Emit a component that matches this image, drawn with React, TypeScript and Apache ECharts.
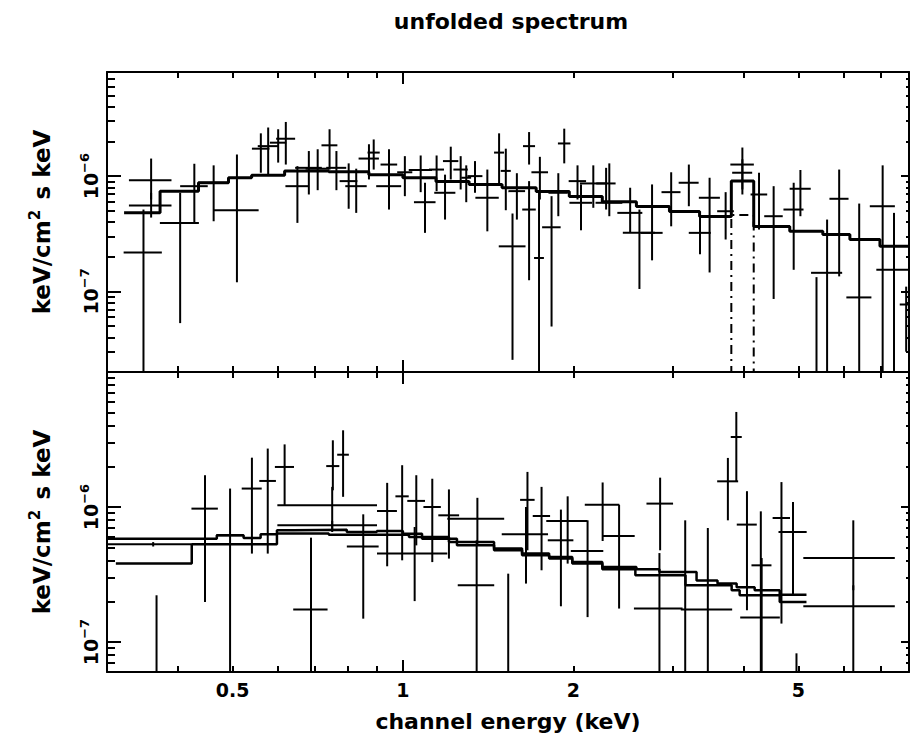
import { useEffect, useRef } from 'react';
import * as echarts from 'echarts';

const FONT = 'DejaVu Sans, sans-serif';
const WEIGHT = 'bold';

// ---- axis ranges ----
const xRange = [0.3, 7.84];
const topYRange = [2e-8, 8e-6];
const botYRange = [6e-8, 1e-5];

// ---- ticks / labels ----
const xMajorTicks = [1];
const xMinorTicks = [0.4, 0.5, 0.6, 0.7, 0.8, 0.9, 2, 3, 4, 5, 6, 7];
const xTickLabels = [0.5, 1, 2, 5];
const topYMajor = [1e-7, 1e-6];
const topYMinor = [2e-8, 3e-8, 4e-8, 5e-8, 6e-8, 7e-8, 8e-8, 9e-8, 2e-7, 3e-7, 4e-7, 5e-7, 6e-7, 7e-7, 8e-7, 9e-7, 2e-6, 3e-6, 4e-6, 5e-6, 6e-6, 7e-6];
const botYMajor = [1e-7, 1e-6];
const botYMinor = [7e-8, 8e-8, 9e-8, 2e-7, 3e-7, 4e-7, 5e-7, 6e-7, 7e-7, 8e-7, 9e-7, 2e-6, 3e-6, 4e-6, 5e-6, 6e-6, 7e-6, 8e-6, 9e-6];
const yTickLabels = [1e-7, 1e-6];

// ---- top panel data (keV, keV/cm^2 s keV) ----
const topE = [0.348, 0.359, 0.359, 0.404, 0.428, 0.463, 0.509, 0.561, 0.578, 0.602, 0.621, 0.651, 0.682, 0.707, 0.742, 0.763, 0.802, 0.827, 0.871, 0.888, 0.945, 0.945, 1.008, 1.075, 1.094, 1.147, 1.187, 1.215, 1.265, 1.294, 1.341, 1.41, 1.479, 1.52, 1.562, 1.59, 1.671, 1.671, 1.746, 1.74, 1.831, 1.882, 1.928, 2.035, 2.064, 2.17, 2.286, 2.316, 2.521, 2.618, 2.756, 2.979, 3.201, 3.35, 3.483, 3.718, 3.98, 3.98, 4.259, 4.52, 4.904, 5.04, 5.381, 5.618, 5.901, 6.402, 7.043, 7.375, 7.75];
const topDE = [0.027, 0.031, 0.031, 0.032, 0.024, 0.029, 0.047, 0.02, 0.024, 0.02, 0.024, 0.031, 0.037, 0.034, 0.024, 0.031, 0.029, 0.036, 0.036, 0.022, 0.032, 0.048, 0.031, 0.051, 0.048, 0.035, 0.051, 0.038, 0.037, 0.026, 0.041, 0.067, 0.03, 0.031, 0.085, 0.054, 0.041, 0.046, 0.059, 0.035, 0.069, 0.074, 0.049, 0.072, 0.095, 0.115, 0.09, 0.126, 0.128, 0.171, 0.121, 0.115, 0.13, 0.15, 0.149, 0.126, 0.19, 0.162, 0.144, 0.17, 0.2, 0.216, 0.15, 0.355, 0.229, 0.326, 0.359, 0.511, 0.2];
const topF = [2.18e-7, 9.23e-7, 5.56e-7, 3.93e-7, 8.18e-7, 8.76e-7, 5.06e-7, 1.73e-6, 1.82e-6, 1.95e-6, 2.11e-6, 8.18e-7, 1.18e-6, 1.16e-6, 1.85e-6, 1.18e-6, 9.05e-7, 8.18e-7, 1.42e-6, 1.6e-6, 1.26e-6, 8.18e-7, 1.08e-6, 1.13e-6, 5.94e-7, 1.14e-6, 7.17e-7, 1.35e-6, 1.14e-6, 9.68e-7, 1.0e-6, 6.49e-7, 1.6e-6, 1.11e-6, 2.46e-7, 7.41e-7, 1.82e-6, 5.13e-7, 1.08e-6, 1.95e-7, 3.6e-7, 7.17e-7, 1.92e-6, 9.05e-7, 5.87e-7, 8.64e-7, 8.64e-7, 5.87e-7, 4.8e-7, 3.22e-7, 3.22e-7, 7.26e-7, 8.76e-7, 3.22e-7, 6.49e-7, 4.96e-7, 1.26e-6, 1.07e-6, 6.93e-7, 4.49e-7, 5.13e-7, 7.77e-7, 1e-8, 1.45e-7, 6.36e-7, 8.87e-8, 5.48e-7, 1.54e-7, 7.7e-8];
const topLo = [1e-8, 6.27e-7, 4.37e-7, 5.31e-8, 3.96e-7, 4.06e-7, 1.2e-7, 1.07e-6, 1.03e-6, 1.31e-6, 1.26e-6, 3.93e-7, 6.93e-7, 7.55e-7, 1.14e-6, 7.55e-7, 5.21e-7, 4.8e-7, 9.36e-7, 1.14e-6, 8.47e-7, 5.13e-7, 6.7e-7, 7.26e-7, 3.22e-7, 7.41e-7, 4.2e-7, 9.36e-7, 7.66e-7, 5.94e-7, 7.17e-7, 3.32e-7, 8.64e-7, 5.06e-7, 2.55e-8, 4.2e-7, 1.26e-6, 1.25e-7, 6.27e-7, 1e-8, 4.96e-8, 4.49e-7, 1.29e-6, 6.27e-7, 3.39e-7, 5.31e-7, 5.13e-7, 4.49e-7, 3.22e-7, 1.05e-7, 1.86e-7, 3.67e-7, 5.48e-7, 2.1e-7, 1.46e-7, 2.82e-7, 7.66e-7, 6.93e-7, 3.44e-7, 8.6e-8, 1.54e-7, 4.49e-7, 1e-9, 1e-8, 1.35e-7, 1e-8, 1e-8, 1e-8, 3e-8];
const topHi = [5.13e-7, 1.42e-6, 7.17e-7, 7.17e-7, 1.28e-6, 1.24e-6, 1.54e-6, 2.35e-6, 2.64e-6, 2.55e-6, 2.95e-6, 1.22e-6, 1.65e-6, 1.71e-6, 2.55e-6, 1.65e-6, 1.29e-6, 1.16e-6, 1.89e-6, 2.08e-6, 1.71e-6, 1.14e-6, 1.49e-6, 1.51e-6, 8.76e-7, 1.51e-6, 1.03e-6, 1.8e-6, 1.49e-6, 1.24e-6, 1.35e-6, 1.14e-6, 2.35e-6, 1.73e-6, 4.74e-7, 1.06e-6, 2.41e-6, 9.05e-7, 1.47e-6, 7.17e-7, 6.7e-7, 1.06e-6, 2.58e-6, 1.24e-6, 8.47e-7, 1.24e-6, 1.18e-6, 1.29e-6, 7.93e-7, 5.13e-7, 8.47e-7, 1.08e-6, 1.26e-6, 4.6e-7, 9.68e-7, 7.26e-7, 1.77e-6, 1.4e-6, 1.07e-6, 8.18e-7, 8.76e-7, 1.13e-6, 1.33e-7, 4.2e-7, 1.14e-6, 5.78e-7, 1.24e-6, 4.8e-7, 1.1e-7];

// top model (histogram) and line component
const topModelEdges = [0.3216, 0.3723, 0.4353, 0.4918, 0.5404, 0.618, 0.7396, 0.8706, 1.0, 1.144, 1.309, 1.497, 1.72, 1.968, 2.251, 2.586, 2.958, 3.344, 3.805, 4.168, 4.826, 5.521, 6.164, 6.966, 7.84];
const topModelValues = [4.8e-7, 7.41e-7, 8.76e-7, 9.7e-7, 1.02e-6, 1.11e-6, 1.09e-6, 1.03e-6, 9.7e-7, 9.0e-7, 8.47e-7, 7.93e-7, 7.36e-7, 6.65e-7, 6.0e-7, 5.45e-7, 4.93e-7, 4.46e-7, 9.05e-7, 3.65e-7, 3.32e-7, 3.11e-7, 2.82e-7, 2.46e-7];
const lineCompEdges = [3.805, 4.168];
const lineCompValue = 4.6e-7;
const lineCompFloor = 1e-9;

// ---- bottom panel data ----
const botE = [0.362, 0.367, 0.447, 0.495, 0.541, 0.577, 0.618, 0.688, 0.75, 0.75, 0.752, 0.784, 0.851, 0.938, 0.997, 1.049, 1.056, 1.127, 1.206, 1.354, 1.35, 1.535, 1.65, 1.66, 1.758, 1.902, 1.955, 2.12, 2.254, 2.41, 2.84, 2.848, 3.154, 3.458, 3.752, 3.883, 4.055, 4.29, 4.305, 4.666, 4.89, 4.96, 6.25, 6.25];
const botDE = [0.061, 0.03, 0.024, 0.027, 0.022, 0.0195, 0.024, 0.048, 0.15, 0.15, 0.02, 0.0186, 0.055, 0.038, 0.027, 0.149, 0.038, 0.04, 0.051, 0.156, 0.1, 0.04, 0.155, 0.049, 0.062, 0.099, 0.163, 0.14, 0.158, 0.158, 0.28, 0.154, 0.06, 0.36, 0.16, 0.087, 0.165, 0.345, 0.175, 0.165, 0.28, 0.05, 1.15, 1.15];
const botF = [5.29e-7, 1e-8, 9.73e-7, 6.17e-7, 1.37e-6, 1.56e-6, 1.98e-6, 1.74e-7, 1.03e-6, 7.32e-7, 2.01e-6, 2.44e-6, 5.11e-7, 9.34e-7, 1.2e-6, 4.52e-7, 1.11e-6, 1.0e-6, 8.68e-7, 8.2e-7, 2.63e-7, 1e-8, 6.28e-7, 1.13e-6, 8.58e-7, 5.67e-7, 7.88e-7, 4.72e-7, 1.04e-6, 6.1e-7, 1.77e-7, 1.06e-6, 1e-8, 1.74e-7, 1.55e-6, 3.3e-6, 7.41e-7, 1.52e-7, 3.7e-7, 8.29e-7, 6.53e-7, 1e-8, 4.19e-7, 1.84e-7];
const botLo = [5.1e-7, 1e-9, 1.98e-7, 1e-8, 4.52e-7, 4.52e-7, 1.03e-6, 1e-8, 6.53e-7, 6.8e-7, 1.33e-6, 1.19e-6, 1.49e-7, 3.64e-7, 4.03e-7, 2.01e-7, 5.2e-7, 3.91e-7, 4.15e-7, 5.2e-7, 1e-8, 1e-9, 2.71e-7, 4.78e-7, 3.4e-7, 1.84e-7, 3.81e-7, 1.53e-7, 5.6e-7, 1.77e-7, 1e-8, 4.78e-7, 1e-9, 1e-8, 7.97e-7, 1.55e-6, 1.72e-7, 1e-8, 1e-8, 1.37e-7, 2.22e-7, 1e-9, 2.42e-7, 1e-8];
const botHi = [5.5e-7, 2.22e-7, 1.72e-6, 1.37e-6, 2.32e-6, 2.71e-6, 2.91e-6, 5.93e-7, 1.41e-6, 7.9e-7, 3.12e-6, 3.7e-6, 8.83e-7, 1.51e-6, 2.04e-6, 7.11e-7, 1.72e-6, 1.62e-6, 1.35e-6, 1.17e-6, 5.67e-7, 3.21e-7, 1.0e-6, 1.82e-6, 1.41e-6, 9.57e-7, 1.2e-6, 7.97e-7, 1.52e-6, 1.04e-6, 4.56e-7, 1.65e-6, 7.97e-7, 6.99e-7, 2.31e-6, 5.06e-6, 1.31e-6, 9.29e-7, 4.19e-7, 1.53e-6, 1.09e-6, 8.25e-8, 7.97e-7, 2.63e-7];

// bottom models (two detectors)
const botModelAEdges = [0.3, 0.469, 0.523, 0.5605, 0.599, 0.641, 0.7959, 0.8994, 1.0, 1.081, 1.246, 1.449, 1.624, 1.813, 1.992, 2.251, 2.586, 2.84, 3.303, 3.597, 3.888, 4.184, 4.633, 5.166];
const botModelAValues = [5.83e-7, 6.17e-7, 5.9e-7, 6.28e-7, 6.72e-7, 6.8e-7, 6.53e-7, 6.64e-7, 6.35e-7, 5.83e-7, 5.2e-7, 4.92e-7, 4.52e-7, 4.26e-7, 3.91e-7, 3.59e-7, 3.46e-7, 3.3e-7, 2.86e-7, 2.71e-7, 2.55e-7, 2.42e-7, 2.24e-7];
const botModelBEdges = [0.311, 0.4235, 0.599, 0.7396, 1.025, 1.206, 1.449, 1.624, 1.813, 1.992, 2.251, 2.575, 3.158, 3.81, 3.936, 4.633, 5.166];
const botModelBValues = [3.81e-7, 5.29e-7, 6.38e-7, 6.24e-7, 5.99e-7, 5.5e-7, 4.78e-7, 4.39e-7, 4.15e-7, 3.81e-7, 3.46e-7, 3.12e-7, 2.63e-7, 2.42e-7, 2.22e-7, 1.98e-7];

const L = Math.log10;

function errorData(E: number[], dE: number[], F: number[], lo: number[], hi: number[]) {
  return E.map((e, i) => [L(e), L(e - dE[i]), L(e + dE[i]), L(F[i]), L(lo[i]), L(hi[i])]);
}
function stepData(edges: number[], values: number[]) {
  const d = values.map((v, i) => [L(edges[i]), L(v)]);
  d.push([L(edges[edges.length - 1]), L(values[values.length - 1])]);
  return d;
}

const BAR_STYLE = { stroke: '#000', lineWidth: 2 };
function renderErrorBar(params: any, api: any) {
  const cs = params.coordSys;
  const x0 = cs.x, x1 = cs.x + cs.width, y0 = cs.y, y1 = cs.y + cs.height;
  const c = api.coord([api.value(0), api.value(3)]);
  const l = api.coord([api.value(1), api.value(3)]);
  const r = api.coord([api.value(2), api.value(3)]);
  const lo = api.coord([api.value(0), api.value(4)]);
  const hi = api.coord([api.value(0), api.value(5)]);
  const children: any[] = [];
  if (c[0] >= x0 - 0.5 && c[0] <= x1 + 0.5) {
    const ya = Math.max(y0, Math.min(y1, hi[1]));
    const yb = Math.max(y0, Math.min(y1, lo[1]));
    if (yb - ya > 0.5) children.push({ type: 'line', shape: { x1: c[0], y1: ya, x2: c[0], y2: yb }, style: BAR_STYLE });
  }
  if (c[1] >= y0 && c[1] <= y1) {
    const xa = Math.max(x0, l[0]);
    const xb = Math.min(x1, r[0]);
    if (xb > xa) children.push({ type: 'line', shape: { x1: xa, y1: c[1], x2: xb, y2: c[1] }, style: BAR_STYLE });
  }
  return { type: 'group', children };
}

const AX = { color: '#000', width: 2 };

function xAxisSet(grid: number, withLabels: boolean) {
  const base: any = {
    type: 'value', gridIndex: grid, min: L(xRange[0]), max: L(xRange[1]),
    splitLine: { show: false }, axisLabel: { show: false }, axisLine: { show: false, onZero: false },
  };
  const major = { show: true, inside: true, length: 12, lineStyle: AX, customValues: xMajorTicks.map(L) };
  const minor = { show: true, inside: true, length: 6, lineStyle: AX, customValues: xMinorTicks.map(L) };
  const labelAxis: any = { ...base, position: 'bottom', axisLine: { show: true, onZero: false, lineStyle: AX }, axisTick: major };
  if (withLabels) {
    labelAxis.axisLabel = {
      show: true, customValues: xTickLabels.map(L), margin: 8, fontSize: 19, fontWeight: WEIGHT, fontFamily: FONT, color: '#000',
      formatter: (v: number) => String(Number(Math.pow(10, v).toPrecision(3))),
    };
    labelAxis.name = 'channel energy (keV)';
    labelAxis.nameLocation = 'middle';
    labelAxis.nameGap = 38;
    labelAxis.nameTextStyle = { fontSize: 22, fontWeight: WEIGHT, fontFamily: FONT, color: '#000' };
  }
  return [
    labelAxis,
    { ...base, position: 'bottom', axisTick: minor },
    { ...base, position: 'top', axisLine: { show: true, onZero: false, lineStyle: AX }, axisTick: major },
    { ...base, position: 'top', axisTick: minor },
  ];
}

function yAxisSet(grid: number, range: number[], majors: number[], minors: number[]) {
  const base: any = {
    type: 'value', gridIndex: grid, min: L(range[0]), max: L(range[1]),
    splitLine: { show: false }, axisLabel: { show: false }, axisLine: { show: false, onZero: false },
  };
  return [
    {
      ...base, position: 'left',
      axisLine: { show: true, onZero: false, lineStyle: AX },
      axisTick: { show: true, inside: true, length: 14, lineStyle: AX, customValues: majors.map(L) },
      axisLabel: {
        show: true, customValues: yTickLabels.map(L), rotate: 90, margin: 3, color: '#000',
        formatter: (v: number) => `{b|10}{sup|\u2212${Math.abs(Math.round(v))}}`,
        rich: {
          b: { fontSize: 19, lineHeight: 26, fontWeight: WEIGHT, fontFamily: FONT, color: '#000' },
          sup: { fontSize: 13, lineHeight: 11, verticalAlign: 'top', fontWeight: WEIGHT, fontFamily: FONT, color: '#000' },
        },
      },
      name: '{b|keV/cm}{sup|2  }{b|s keV}',
      nameLocation: 'middle', nameRotate: 90, nameGap: 50,
      nameTextStyle: {
        color: '#000',
        rich: {
          b: { fontSize: 23, lineHeight: 30, fontWeight: WEIGHT, fontFamily: FONT, color: '#000' },
          sup: { fontSize: 15, lineHeight: 13, verticalAlign: 'top', fontWeight: WEIGHT, fontFamily: FONT, color: '#000' },
        },
      },
    },
    { ...base, position: 'left', axisTick: { show: true, inside: true, length: 8, lineStyle: AX, customValues: minors.map(L) } },
    { ...base, position: 'right', axisLine: { show: true, onZero: false, lineStyle: AX }, axisTick: { show: true, inside: true, length: 8, lineStyle: AX, customValues: majors.map(L) } },
    { ...base, position: 'right', axisTick: { show: true, inside: true, length: 3, lineStyle: AX, customValues: minors.map(L) } },
  ];
}

export default function App() {
  const ref = useRef<HTMLDivElement>(null);
  useEffect(() => {
    if (!ref.current) return;
    const chart = echarts.init(ref.current, undefined, { renderer: 'svg' });
    const option: any = {
      animation: false,
      backgroundColor: '#fff',
      graphic: [
        {
          type: 'text', x: 511, y: 21,
          style: { text: 'unfolded spectrum', fontSize: 22, fontWeight: WEIGHT, fontFamily: FONT, fill: '#000', align: 'center', verticalAlign: 'middle' },
        },
      ],
      grid: [
        { left: 107, top: 72, width: 802, height: 300 },
        { left: 107, top: 372, width: 802, height: 300 },
      ],
      xAxis: [...xAxisSet(0, false), ...xAxisSet(1, true)],
      yAxis: [...yAxisSet(0, topYRange, topYMajor, topYMinor), ...yAxisSet(1, botYRange, botYMajor, botYMinor)],
      series: [
        {
          type: 'line', xAxisIndex: 0, yAxisIndex: 0, step: 'end', symbol: 'none', silent: true,
          lineStyle: { color: '#000', width: 3 }, data: stepData(topModelEdges, topModelValues),
        },
        {
          type: 'line', xAxisIndex: 0, yAxisIndex: 0, step: 'start', symbol: 'none', silent: true,
          lineStyle: { color: '#000', width: 2, type: [9, 5, 2, 5] },
          data: [
            [L(lineCompEdges[0]), L(lineCompFloor)],
            [L(lineCompEdges[1]), L(lineCompValue)],
            [L(lineCompEdges[1]), L(lineCompFloor)],
          ],
        },
        {
          type: 'custom', xAxisIndex: 0, yAxisIndex: 0, renderItem: renderErrorBar, silent: true,
          encode: { x: [0, 1, 2], y: [3, 4, 5] },
          data: errorData(topE, topDE, topF, topLo, topHi),
        },
        {
          type: 'line', xAxisIndex: 4, yAxisIndex: 4, step: 'end', symbol: 'none', silent: true,
          lineStyle: { color: '#000', width: 2.5 }, data: stepData(botModelAEdges, botModelAValues),
        },
        {
          type: 'line', xAxisIndex: 4, yAxisIndex: 4, step: 'end', symbol: 'none', silent: true,
          lineStyle: { color: '#000', width: 2.5 }, data: stepData(botModelBEdges, botModelBValues),
        },
        {
          type: 'custom', xAxisIndex: 4, yAxisIndex: 4, renderItem: renderErrorBar, silent: true,
          encode: { x: [0, 1, 2], y: [3, 4, 5] },
          data: errorData(botE, botDE, botF, botLo, botHi),
        },
      ],
    };
    chart.setOption(option);
    return () => chart.dispose();
  }, []);
  return <div ref={ref} style={{ position: 'absolute', left: 0, top: 0, width: 911, height: 749 }} />;
}
